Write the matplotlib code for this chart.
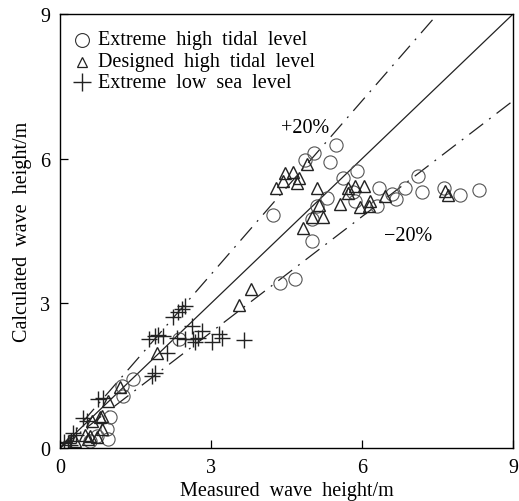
import numpy as np
import matplotlib
matplotlib.use("Agg")
import matplotlib.pyplot as plt

plt.rcParams['font.family'] = ['Liberation Serif', 'DejaVu Serif']

# extreme high tidal level (circles)
high_x = [5.49, 5.04, 4.87, 5.37, 5.90, 5.63, 6.33, 6.59, 5.30, 5.10, 5.86, 6.30, 4.24, 5.00, 5.00,
          7.12, 6.86, 6.68, 7.19, 7.62, 7.94, 8.32, 5.83, 4.37, 4.67,
          1.46, 1.23, 1.25, 0.99, 0.93, 0.95, 0.73, 0.60, 2.37]
high_y = [6.29, 6.12, 5.98, 5.93, 5.74, 5.60, 5.40, 5.26, 5.19, 5.02, 5.12, 5.02, 4.84, 4.74, 4.29,
          5.65, 5.40, 5.16, 5.31, 5.40, 5.24, 5.34, 5.30, 3.43, 3.51,
          1.44, 1.29, 1.08, 0.65, 0.40, 0.19, 0.25, 0.15, 2.27]

# designed high tidal level (triangles)
design_x = [4.90, 4.47, 4.63, 4.74, 4.43, 4.71, 4.29, 5.10, 5.73, 5.86, 6.03, 5.73, 5.57, 5.14,
            5.00, 5.23, 4.82, 5.96, 6.13, 6.16, 6.46, 7.65, 7.70, 3.79, 3.56,
            1.93, 1.19, 0.96, 0.80, 0.83, 0.63, 0.83, 0.73, 0.60, 0.50, 0.56, 0.30]
design_y = [5.88, 5.71, 5.72, 5.60, 5.53, 5.50, 5.40, 5.40, 5.40, 5.44, 5.44, 5.29, 5.05, 5.03,
            4.78, 4.78, 4.57, 5.00, 5.02, 5.12, 5.22, 5.33, 5.24, 3.29, 2.96,
            1.98, 1.27, 0.98, 0.64, 0.67, 0.57, 0.39, 0.22, 0.24, 0.27, 0.19, 0.15]

# extreme low sea level (pluses)
low_x = [2.49, 2.42, 2.35, 2.25, 2.62, 2.82, 2.32, 2.49, 2.65, 2.75, 2.68, 3.02, 3.15, 3.21, 3.66,
         1.89, 1.76, 1.95, 2.12, 1.82, 1.88, 0.76, 0.85, 0.46, 0.53,
         0.25, 0.32, 0.22, 0.20, 0.15, 0.08, 2.05]
low_y = [2.95, 2.88, 2.81, 2.71, 2.53, 2.43, 2.29, 2.26, 2.26, 2.29, 2.19, 2.19, 2.36, 2.29, 2.23,
         2.33, 2.27, 2.35, 1.98, 1.50, 1.55, 1.01, 1.03, 0.62, 0.55,
         0.32, 0.27, 0.15, 0.06, 0.10, 0.13, 2.33]

fs = 14.5

fig = plt.figure(figsize=(5.19, 5.02), dpi=100)
ax = fig.add_axes([0.1156, 0.1056, 0.873, 0.8645])

line = np.array([0, 9])
ax.plot(line, line, color='#222222', lw=0.9)
ax.plot(line, 1.2 * line, color='#222222', lw=0.9, dashes=(14, 6, 1.5, 6))
ax.plot(line, 0.8 * line, color='#222222', lw=0.9, dashes=(14, 6, 1.5, 6))

ax.plot(high_x, high_y, 'o', mfc='none', mec='#555555', ms=9.5, mew=0.8)
ax.plot(design_x, design_y, '^', mfc='none', mec='#222222', ms=8, mew=1.0)
ax.plot(low_x, low_y, '+', color='#222222', ms=12, mew=1.0)

ax.text(4.87, 6.65, '+20%', fontsize=fs, ha='center', va='center')
ax.text(6.92, 4.41, '\u221220%', fontsize=fs, ha='center', va='center')

# legend drawn as handles + text
leg_y = [8.47, 8.01, 7.58]
ax.plot([0.44], [leg_y[0]], 'o', mfc='none', mec='#333333', ms=10, mew=0.8)
ax.plot([0.44], [leg_y[1]], '^', mfc='none', mec='#222222', ms=7, mew=0.9)
ax.plot([0.44], [leg_y[2]], '+', color='#222222', ms=13, mew=1.0)
labels = ['Extreme  high  tidal  level', 'Designed  high  tidal  level', 'Extreme  low  sea  level']
for yy, lab in zip(leg_y, labels):
    ax.text(0.76, yy, lab, fontsize=fs, ha='left', va='center')

ax.set_xlim(0, 9)
ax.set_ylim(0, 9)
ax.set_xticks([0, 3, 6, 9])
ax.set_yticks([0, 3, 6, 9])
ax.tick_params(direction='in', length=6, width=0.9, labelsize=fs, pad=7)
for s in ax.spines.values():
    s.set_linewidth(1.0)
ax.set_xlabel('Measured  wave  height/m', fontsize=fs, labelpad=3)
ax.set_ylabel('Calculated  wave  height/m', fontsize=fs, labelpad=6)

fig.savefig('out.png', dpi=100)
